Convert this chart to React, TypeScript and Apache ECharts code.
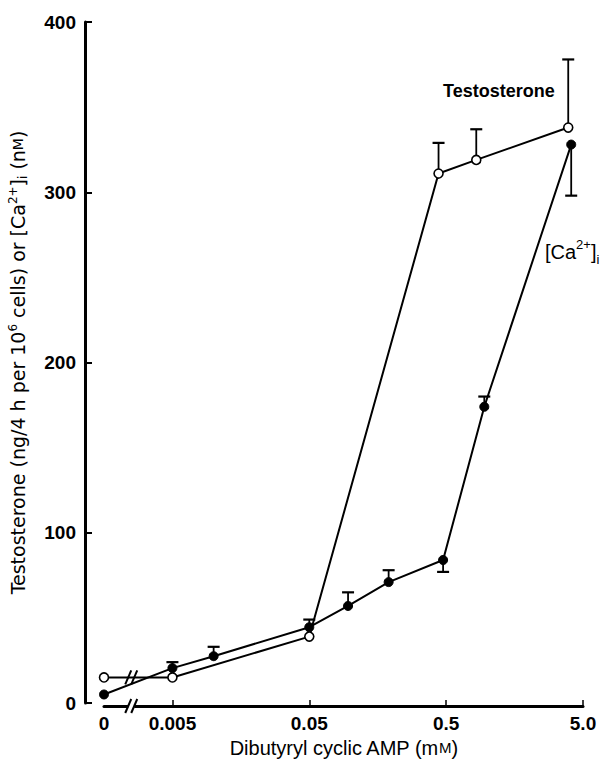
import React, { useEffect, useRef } from 'react';
import * as echarts from 'echarts';

// ---- data ----
const BASE_DOSE = 0.005; // first labelled dose on the log axis
const ZERO_POS = -0.5; // where dose 0 sits (in decades from BASE_DOSE)
const X_MAX_DOSE = 5.0;

const testoDose = [0, 0.005, 0.05, 0.44, 0.83, 3.9];
const testoValue = [15, 15, 39, 311, 319, 338];
const testoErrTo: (number | null)[] = [null, null, null, 329, 337, 378];

const caDose = [0, 0.005, 0.01, 0.05, 0.096, 0.19, 0.475, 0.95, 4.1];
const caValue = [5, 20.5, 27.5, 44.5, 57, 71, 84, 174, 328];
const caErrTo: (number | null)[] = [null, 24, 33, 49, 65, 78, 77, 180, 298];

const xTickDoses = [0.005, 0.05, 0.5, 5.0];
const xLabelDoses = [0, 0.005, 0.05, 0.5, 5.0];
const xLabelTexts = ['0', '0.005', '0.05', '0.5', '5.0'];
const yMin = 0;
const yMax = 400;
const yStep = 100;
const breakDose = 0.0025; // position of the axis break marks

const FONT = "'Liberation Sans', Arial, sans-serif";
const TITLE_FONT = "'DejaVu Sans', 'Liberation Sans', sans-serif";

const toX = (d: number) => (d === 0 ? ZERO_POS : Math.round(Math.log10(d / BASE_DOSE) * 1e6) / 1e6);

function errData(doses: number[], vals: number[], errs: (number | null)[]) {
  const out: number[][] = [];
  doses.forEach((d, i) => {
    const e = errs[i];
    if (e !== null && e !== undefined) out.push([toX(d), vals[i], e]);
  });
  return out;
}

const errRender = (params: any, api: any) => {
  const p0 = api.coord([api.value(0), api.value(1)]);
  const p1 = api.coord([api.value(0), api.value(2)]);
  const hw = 6;
  return {
    type: 'group',
    children: [
      { type: 'line', shape: { x1: p0[0], y1: p0[1], x2: p1[0], y2: p1[1] }, style: { stroke: '#000', lineWidth: 1.8 } },
      { type: 'line', shape: { x1: p1[0] - hw, y1: p1[1], x2: p1[0] + hw, y2: p1[1] }, style: { stroke: '#000', lineWidth: 2.2 } },
    ],
  };
};

export default function App() {
  const ref = useRef<HTMLDivElement>(null);
  useEffect(() => {
    if (!ref.current) return;
    const chart = echarts.init(ref.current, null, { renderer: 'svg' });
    const option: any = {
      animation: false,
      backgroundColor: '#fff',
      grid: { left: 104, right: 25, top: 22, bottom: 57, containLabel: false, outerBoundsMode: 'none' },
      xAxis: {
        type: 'value',
        min: ZERO_POS,
        max: toX(X_MAX_DOSE),
        offset: 3,
        splitLine: { show: false },
        axisLine: { onZero: false, lineStyle: { color: '#000', width: 3 } },
        axisTick: { inside: true, length: 6, lineStyle: { color: '#000', width: 1.5 }, customValues: xTickDoses.map(toX) },
        axisLabel: {
          customValues: xLabelDoses.map(toX),
          margin: 8,
          color: '#000',
          fontSize: 19,
          fontWeight: 'bold',
          fontFamily: FONT,
          formatter: (v: number) => {
            const i = xLabelDoses.findIndex((d) => Math.abs(toX(d) - v) < 1e-4);
            return i >= 0 ? xLabelTexts[i] : '';
          },
        },
        name: 'Dibutyryl cyclic AMP (m{sc|M})',
        nameLocation: 'middle',
        nameGap: 30,
        nameTextStyle: { color: '#000', fontSize: 20, fontFamily: FONT, rich: { sc: { fontSize: 15, fontFamily: FONT, color: '#000' } } },
      },
      yAxis: {
        type: 'value',
        min: yMin,
        max: yMax,
        interval: yStep,
        offset: 19,
        splitLine: { show: false },
        axisLine: { onZero: false, lineStyle: { color: '#000', width: 3 } },
        axisTick: { inside: true, length: 7, lineStyle: { color: '#000', width: 2 } },
        axisLabel: { margin: 9, color: '#000', fontSize: 19, fontWeight: 'bold', fontFamily: FONT },
        name: 'Testosterone (ng/4 h per 10{sup|6} cells) or [Ca{sup|2+}]{sub|i} (n{sc|M})',
        nameLocation: 'middle',
        nameGap: 56,
        nameTextStyle: {
          color: '#000',
          fontSize: 19,
          lineHeight: 22,
          fontFamily: TITLE_FONT,
          rich: {
            sup: { fontSize: 12, verticalAlign: 'top', fontFamily: TITLE_FONT, color: '#000' },
            sub: { fontSize: 12, verticalAlign: 'bottom', fontFamily: TITLE_FONT, color: '#000' },
            sc: { fontSize: 14, fontFamily: TITLE_FONT, color: '#000' },
          },
        },
      },
      series: [
        {
          type: 'custom',
          renderItem: errRender,
          data: errData(testoDose, testoValue, testoErrTo),
          clip: false,
          z: 1,
        },
        {
          type: 'custom',
          renderItem: errRender,
          data: errData(caDose, caValue, caErrTo),
          clip: false,
          z: 1,
        },
        {
          name: 'Ca',
          type: 'line',
          data: caDose.map((d, i) => [toX(d), caValue[i]]),
          symbol: 'circle',
          symbolSize: 9,
          clip: false,
          lineStyle: { color: '#000', width: 2 },
          itemStyle: { color: '#000', borderColor: '#000', borderWidth: 1 },
          z: 2,
        },
        {
          name: 'Testosterone',
          type: 'line',
          data: testoDose.map((d, i) => [toX(d), testoValue[i]]),
          symbol: 'circle',
          symbolSize: 9,
          clip: false,
          lineStyle: { color: '#000', width: 2 },
          itemStyle: { color: '#fff', borderColor: '#000', borderWidth: 1.6 },
          z: 3,
        },
      ],
    };
    chart.setOption(option);

    // break marks on the x axis and on the testosterone line, placed through the axes
    const bx = toX(breakDose);
    const pAxis = chart.convertToPixel({ gridIndex: 0 }, [bx, 0]) as number[];
    const pLine = chart.convertToPixel({ gridIndex: 0 }, [bx, testoValue[0]]) as number[];
    const slash = (cx: number, cy: number) => ({
      type: 'line',
      shape: { x1: cx - 3, y1: cy + 7, x2: cx + 3, y2: cy - 7 },
      style: { stroke: '#000', lineWidth: 2 },
    });
    const ay = pAxis[1] + 3;
    chart.setOption({
      graphic: [
        { type: 'rect', shape: { x: pAxis[0] - 3, y: ay - 3, width: 6, height: 6 }, style: { fill: '#fff' }, z: 100 },
        { ...slash(pAxis[0] - 3, ay), z: 101 },
        { ...slash(pAxis[0] + 3, ay), z: 101 },
        { ...slash(pLine[0] - 3, pLine[1]), z: 101 },
        { ...slash(pLine[0] + 3, pLine[1]), z: 101 },
        {
          type: 'text',
          left: 443,
          top: 82,
          style: { text: 'Testosterone', fill: '#000', fontSize: 18, fontWeight: 'bold', fontFamily: FONT },
          z: 101,
        },
        {
          type: 'text',
          left: 545,
          top: 238,
          style: {
            text: '[Ca{sup|2+}]{sub|i}',
            fill: '#000',
            fontSize: 20,
            lineHeight: 28,
            fontFamily: FONT,
            rich: {
              sup: { fontSize: 13, verticalAlign: 'top', fontFamily: FONT, fill: '#000' },
              sub: { fontSize: 13, verticalAlign: 'bottom', fontFamily: FONT, fill: '#000' },
            },
          },
          z: 101,
        },
      ],
    });
    return () => chart.dispose();
  }, []);
  return <div ref={ref} style={{ position: 'absolute', left: 0, top: 0, width: 608, height: 760, background: '#fff' }} />;
}
